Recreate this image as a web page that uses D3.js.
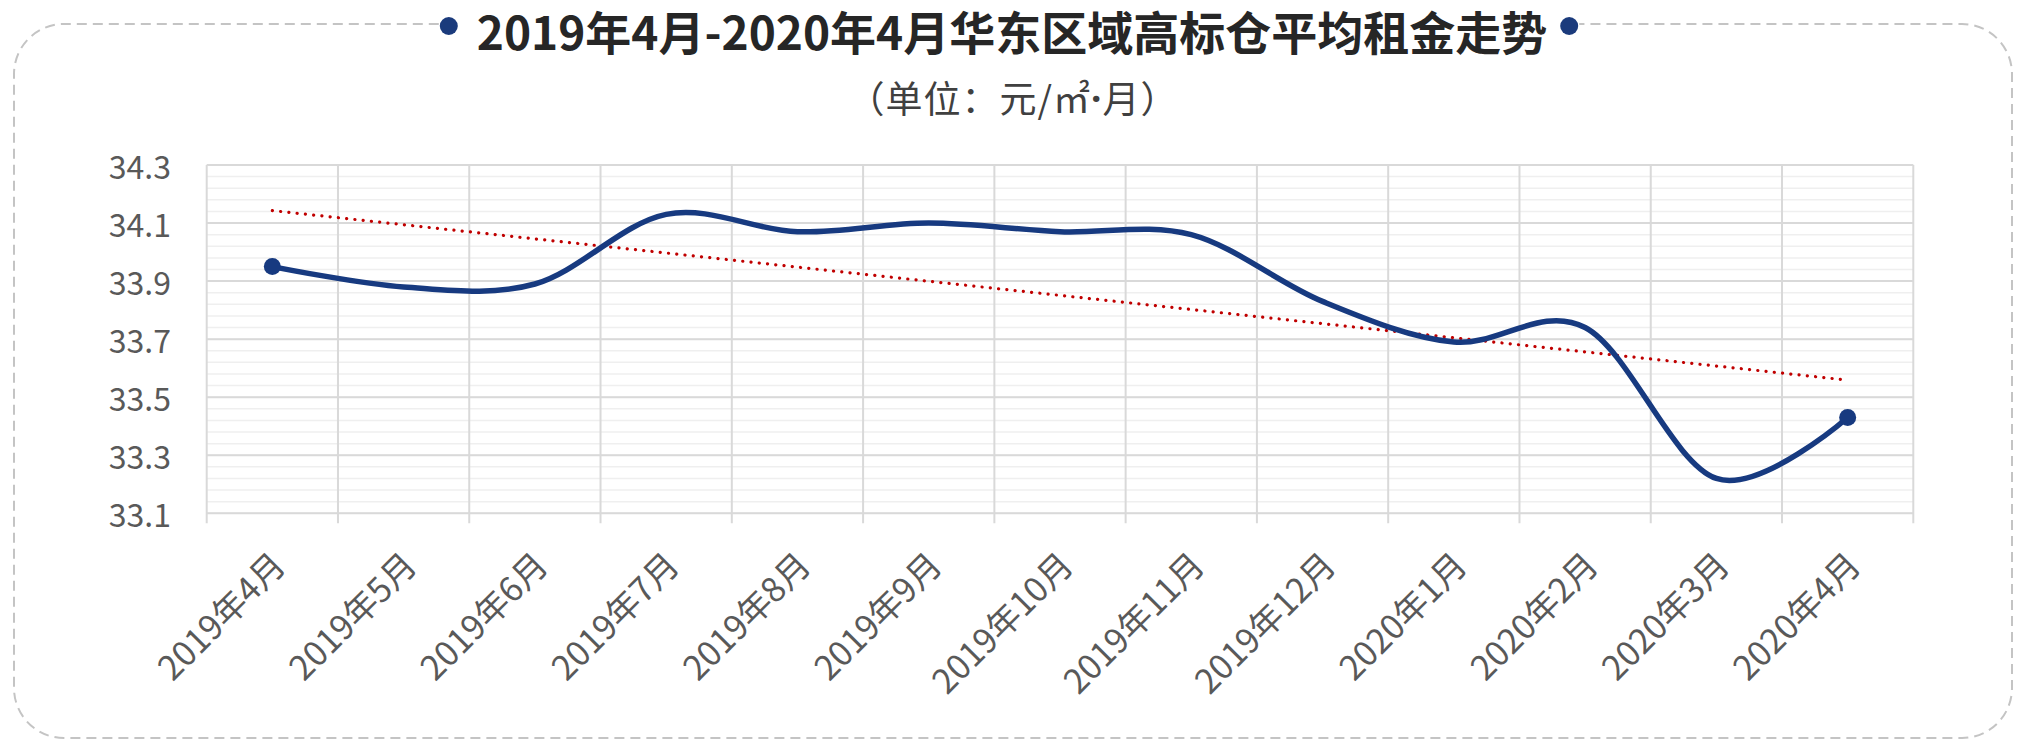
<!DOCTYPE html>
<html>
<head>
<meta charset="utf-8">
<title>华东区域高标仓平均租金走势</title>
<script src="https://d3js.org/d3.v7.min.js"></script>
<style>
  body { margin: 0; background: #fff; }
  svg text { font-family: "Microsoft YaHei", "Noto Sans CJK SC", sans-serif; }
</style>
</head>
<body>
<div id="chart"></div>
<script>
// data
var months = ["2019年4月", "2019年5月", "2019年6月", "2019年7月", "2019年8月", "2019年9月",
              "2019年10月", "2019年11月", "2019年12月", "2020年1月", "2020年2月", "2020年3月", "2020年4月"];
var rent = [33.95, 33.88, 33.89, 34.13, 34.07, 34.10, 34.07, 34.06, 33.83, 33.69, 33.74, 33.22, 33.43];
var yTicks = [33.1, 33.3, 33.5, 33.7, 33.9, 34.1, 34.3];
var title = "2019年4月-2020年4月华东区域高标仓平均租金走势";
var subParts = ["（单位：元/㎡", "·", "月）"];

var W = 2020, H = 742;
var plot = {left: 206.7, right: 1913.3, top: 165, bottom: 513.3};

var svg = d3.select("#chart").append("svg")
    .attr("width", W).attr("height", H);

var x = d3.scaleBand().domain(months).range([plot.left, plot.right]).padding(0);
var y = d3.scaleLinear().domain([33.1, 34.3]).range([plot.bottom, plot.top]);
var cx = function(d) { return x(d) + x.bandwidth() / 2; };

// minor gridlines every 0.04
var minor = d3.range(0, 31).map(function(i) { return 33.1 + i * 0.04; });
svg.append("g").selectAll("line").data(minor).enter().append("line")
    .attr("x1", plot.left).attr("x2", plot.right)
    .attr("y1", function(d) { return y(d); }).attr("y2", function(d) { return y(d); })
    .attr("stroke", "#efefef").attr("stroke-width", 1.5);

// major gridlines
svg.append("g").selectAll("line").data(yTicks).enter().append("line")
    .attr("x1", plot.left).attr("x2", plot.right)
    .attr("y1", function(d) { return y(d); }).attr("y2", function(d) { return y(d); })
    .attr("stroke", "#d9d9d9").attr("stroke-width", 2);

// vertical gridlines between categories, with ticks below the axis
var edges = months.map(function(d) { return x(d); }).concat([plot.right]);
svg.append("g").selectAll("line").data(edges).enter().append("line")
    .attr("x1", function(d) { return d; }).attr("x2", function(d) { return d; })
    .attr("y1", plot.top).attr("y2", plot.bottom + 10)
    .attr("stroke", "#d9d9d9").attr("stroke-width", 2);

// y labels
svg.append("g").selectAll("text").data(yTicks).enter().append("text")
    .attr("x", 171).attr("y", function(d) { return y(d); })
    .attr("text-anchor", "end").attr("dominant-baseline", "central")
    .attr("font-size", 32).attr("fill", "#595959")
    .text(function(d) { return d.toFixed(1); });

// x labels, rotated
svg.append("g").selectAll("text").data(months).enter().append("text")
    .attr("transform", function(d) { return "translate(" + (cx(d) + 5) + "," + (plot.bottom + 44) + ") rotate(-45)"; })
    .attr("text-anchor", "end").attr("dominant-baseline", "central")
    .attr("font-size", 34).attr("fill", "#595959")
    .text(function(d) { return d; });

// linear trendline (least squares over the series)
var n = rent.length;
var mx = (n - 1) / 2, my = d3.mean(rent);
var sxy = d3.sum(rent, function(v, i) { return (i - mx) * (v - my); });
var sxx = d3.sum(rent, function(v, i) { return (i - mx) * (i - mx); });
var slope = sxy / sxx;
var trend = [0, n - 1].map(function(i) { return [cx(months[i]), y(my + slope * (i - mx))]; });
svg.append("path")
    .attr("d", d3.line()(trend))
    .attr("fill", "none").attr("stroke", "#c00000").attr("stroke-width", 3.2)
    .attr("stroke-linecap", "round").attr("stroke-dasharray", "0.1 8.2");

// smoothed series line
var line = d3.line()
    .x(function(d, i) { return cx(months[i]); })
    .y(function(d) { return y(d); })
    .curve(d3.curveCatmullRom.alpha(0));
svg.append("path").datum(rent)
    .attr("d", line)
    .attr("fill", "none").attr("stroke", "#173a80").attr("stroke-width", 5.5)
    .attr("stroke-linejoin", "round");

// end markers
svg.append("g").selectAll("circle").data([0, n - 1]).enter().append("circle")
    .attr("cx", function(i) { return cx(months[i]); })
    .attr("cy", function(i) { return y(rent[i]); })
    .attr("r", 8.5).attr("fill", "#173a80");

// title
var tx = 1012, ty = 30;
var t = svg.append("text")
    .attr("x", tx).attr("y", ty)
    .attr("text-anchor", "middle").attr("dominant-baseline", "central")
    .attr("font-size", 46).attr("font-weight", "bold").attr("fill", "#262626")
    .text(title);
var tw = t.node().getComputedTextLength();
var dotL = tx - tw / 2 - 28, dotR = tx + tw / 2 + 22;

var sub = svg.append("text")
    .attr("x", 1013).attr("y", 97)
    .attr("text-anchor", "middle").attr("dominant-baseline", "central")
    .attr("font-size", 37).attr("letter-spacing", 1).attr("fill", "#404040");
sub.selectAll("tspan").data(subParts).enter().append("tspan")
    .attr("font-family", function(d, i) { return i === 1 ? "'Noto Sans', sans-serif" : null; })
    .attr("font-weight", function(d, i) { return i === 1 ? "bold" : null; })
    .text(function(d) { return d; });

// dashed rounded frame, broken by the title
var L = 14, R = 2012, T = 24, B = 738, r = 50;
var frame = "M" + (dotL - 10) + "," + T + "H" + (L + r) +
    "A" + r + "," + r + " 0 0 0 " + L + "," + (T + r) +
    "V" + (B - r) + "A" + r + "," + r + " 0 0 0 " + (L + r) + "," + B +
    "H" + (R - r) + "A" + r + "," + r + " 0 0 0 " + R + "," + (B - r) +
    "V" + (T + r) + "A" + r + "," + r + " 0 0 0 " + (R - r) + "," + T +
    "H" + (dotR + 10);
svg.append("path").attr("d", frame)
    .attr("fill", "none").attr("stroke", "#c4c4c4").attr("stroke-width", 2)
    .attr("stroke-dasharray", "10 6");

svg.append("g").selectAll("circle").data([dotL, dotR]).enter().append("circle")
    .attr("cx", function(d) { return d; }).attr("cy", T + 2)
    .attr("r", 9).attr("fill", "#1b3b7c");
</script>
</body>
</html>
